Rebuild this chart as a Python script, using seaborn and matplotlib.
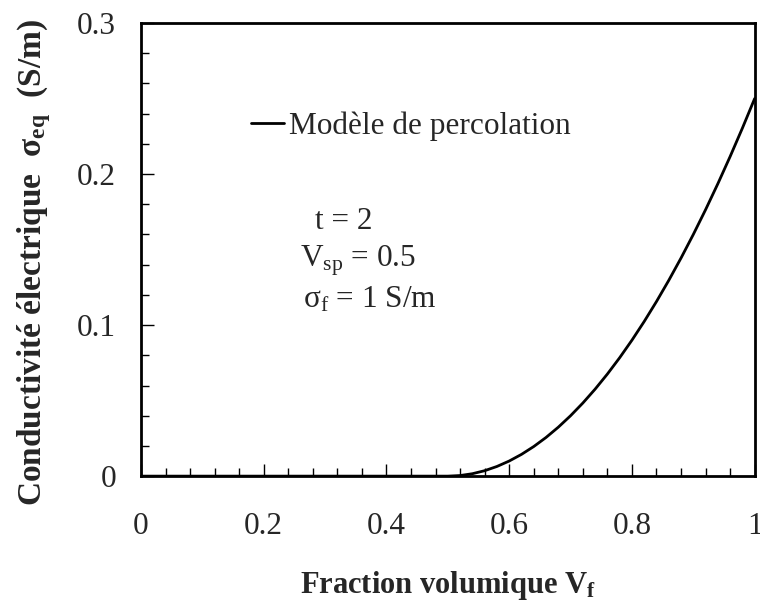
import seaborn as sns
import matplotlib.pyplot as plt
from matplotlib.ticker import MultipleLocator
import pandas as pd

# values (conductivity vs volume fraction)
vf = [0.0, 0.1, 0.2, 0.3, 0.4, 0.5, 0.52, 0.54, 0.56, 0.58, 0.60, 0.62, 0.64, 0.66,
      0.68, 0.70, 0.72, 0.74, 0.76, 0.78, 0.80, 0.82, 0.84, 0.86, 0.88, 0.90,
      0.92, 0.94, 0.96, 0.98, 1.0]
sigma = [0.0, 0.0, 0.0, 0.0, 0.0, 0.0, 0.0004, 0.0016, 0.0036, 0.0064, 0.010, 0.0144,
         0.0196, 0.0256, 0.0324, 0.040, 0.0484, 0.0576, 0.0676, 0.0784, 0.090,
         0.1024, 0.1156, 0.1296, 0.1444, 0.160, 0.1764, 0.1936, 0.2116, 0.2304, 0.250]
xticks = [0, 0.2, 0.4, 0.6, 0.8, 1]
xticklabels = ['0', '0.2', '0.4', '0.6', '0.8', '1']
yticks = [0, 0.1, 0.2, 0.3]
yticklabels = ['0', '0.1', '0.2', '0.3']

df = pd.DataFrame({'Vf': vf, 'sigma': sigma})

sns.set_style('white')
plt.rcParams['font.family'] = ['Liberation Serif', 'DejaVu Serif']
plt.rcParams['mathtext.fontset'] = 'custom'
plt.rcParams['mathtext.rm'] = 'Liberation Serif'
plt.rcParams['mathtext.it'] = 'Liberation Serif:italic'
plt.rcParams['mathtext.bf'] = 'Liberation Serif:bold'

fig = plt.figure(figsize=(7.6, 6.05), dpi=100)
ax = fig.add_axes([0.1855, 0.213, 0.8075, 0.749])

sns.lineplot(data=df, x='Vf', y='sigma', color='black', linewidth=2,
             estimator=None, sort=True, ax=ax, label='Modèle de percolation')

ax.set_xlim(0, 1)
ax.set_ylim(0, 0.3)
ax.set_xticks(xticks)
ax.set_xticklabels(xticklabels)
ax.set_yticks(yticks)
ax.set_yticklabels(yticklabels)
ax.xaxis.set_minor_locator(MultipleLocator(0.04))
ax.yaxis.set_minor_locator(MultipleLocator(0.02))
ax.tick_params(which='both', direction='in', color='black', bottom=True, left=True)
ax.tick_params(which='major', length=9, width=1, labelsize=22.5)
ax.tick_params(axis='x', which='major', pad=26)
ax.tick_params(axis='y', which='major', pad=18)
ax.tick_params(which='minor', length=6, width=1)
for s in ax.spines.values():
    s.set_color('black')
    s.set_linewidth(2)

ax.set_xlabel('Fraction volumique V$_\\mathbf{f}$', fontsize=22, fontweight='bold', labelpad=20)
ax.set_ylabel('Conductivité électrique  σ$_\\mathbf{eq}$  (S/m)', fontsize=24,
              fontweight='bold')
ax.yaxis.set_label_coords(-0.143, 0.472)

ax.legend(loc='center left', bbox_to_anchor=(0.18, 0.772), frameon=False, fontsize=22.5,
          handlelength=1.05, handletextpad=0.16, borderaxespad=0, borderpad=0)

ax.text(0.283, 0.563, 't = 2', transform=ax.transAxes, fontsize=22.5, va='center')
ax.text(0.259, 0.476, 'V$_\\mathrm{sp}$ = 0.5', transform=ax.transAxes, fontsize=22.5, va='center')
ax.text(0.264, 0.389, 'σ$_\\mathrm{f}$ = 1 S/m', transform=ax.transAxes, fontsize=22.5, va='center')

fig.savefig('out.png', dpi=100)
